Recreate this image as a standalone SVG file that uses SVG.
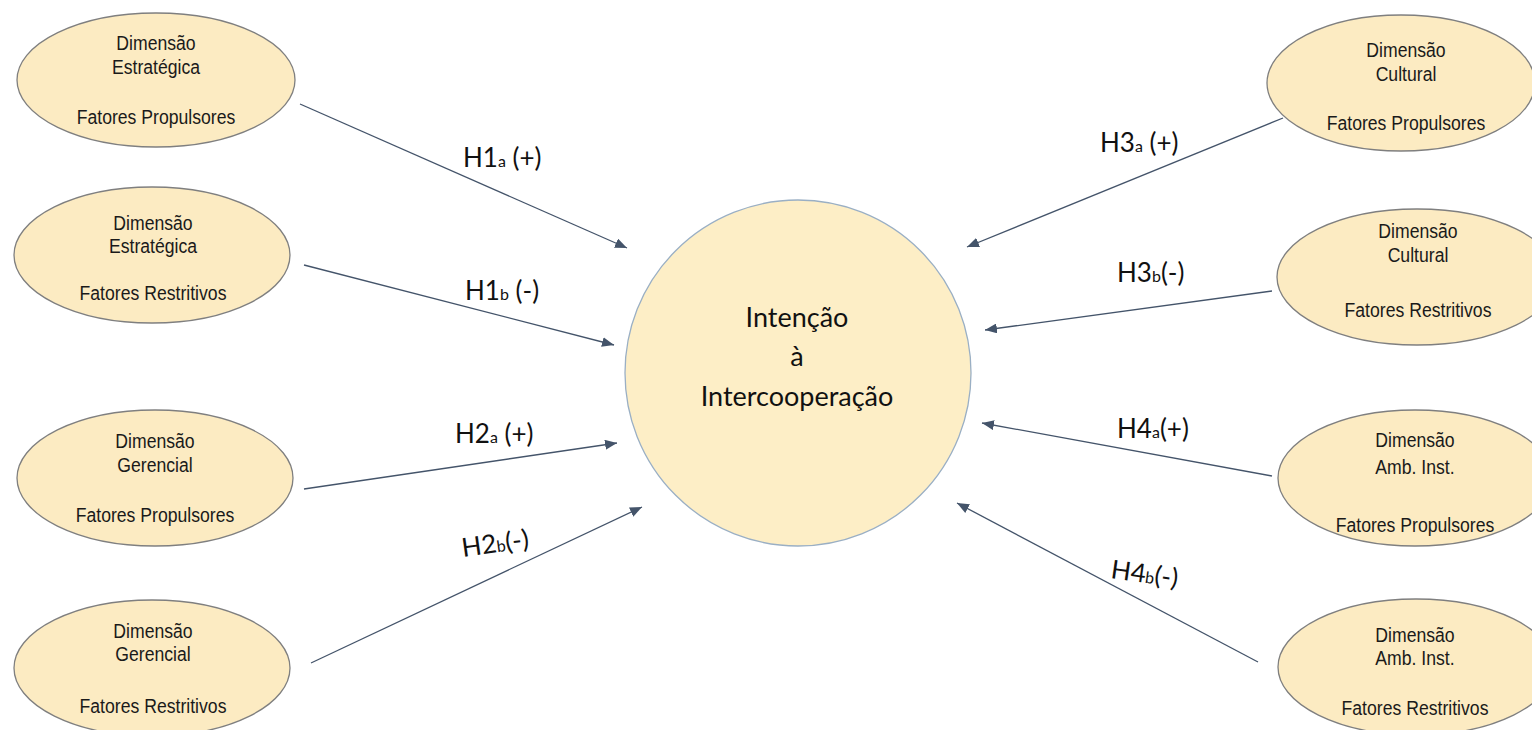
<svg xmlns="http://www.w3.org/2000/svg" width="1532" height="730" viewBox="0 0 1532 730">
<style>
.bg{fill:#ffffff}
.el{fill:#fcebc2;stroke:#7f7f7f;stroke-width:1.3}
.ctr{fill:#fdeec6;stroke:#9aafc4;stroke-width:1.3}
.et{font-family:"Liberation Sans",Arial,sans-serif;font-size:21px;fill:#1a1a1a;text-anchor:middle}
.ct{font-family:Lato,"Open Sans",sans-serif;font-size:27px;fill:#111111;text-anchor:middle}
.hl{font-family:Lato,"Open Sans",sans-serif;font-size:26px;fill:#111111}
.sub{font-size:16px}
.cn{stroke:#44546a;stroke-width:1.3;fill:none;marker-end:url(#ah)}
</style>
<defs>
<marker id="ah" markerUnits="userSpaceOnUse" markerWidth="12" markerHeight="10" viewBox="0 0 12 10" refX="12" refY="5" orient="auto">
<path d="M0,0 L12,5 L0,10 z" fill="#44546a"/>
</marker>
</defs>
<rect class="bg" x="0" y="0" width="1532" height="730"/>

<g id="connectors">
<line class="cn" x1="300" y1="104" x2="627" y2="248"/>
<line class="cn" x1="304" y1="265" x2="614" y2="345"/>
<line class="cn" x1="304" y1="489" x2="617" y2="443"/>
<line class="cn" x1="311" y1="663" x2="642" y2="507"/>
<line class="cn" x1="1283" y1="118" x2="967" y2="247"/>
<line class="cn" x1="1272" y1="291" x2="985" y2="330"/>
<line class="cn" x1="1272" y1="476" x2="982" y2="423"/>
<line class="cn" x1="1258" y1="662" x2="957" y2="503"/>
</g>

<g id="labels">
<text class="hl" x="463" y="167">H1<tspan class="sub">a</tspan> (+)</text>
<text class="hl" x="465" y="300">H1<tspan class="sub">b</tspan> (-)</text>
<text class="hl" x="455" y="443">H2<tspan class="sub">a</tspan> (+)</text>
<text class="hl" transform="translate(463 557) rotate(-8)" x="0" y="0">H2<tspan class="sub">b</tspan>(-)</text>
<text class="hl" x="1100" y="152">H3<tspan class="sub">a</tspan> (+)</text>
<text class="hl" x="1117" y="282">H3<tspan class="sub">b</tspan>(-)</text>
<text class="hl" x="1117" y="438">H4<tspan class="sub">a</tspan>(+)</text>
<text class="hl" transform="translate(1110 578) rotate(8)" x="0" y="0">H4<tspan class="sub">b</tspan>(-)</text>
</g>

<g id="center">
<circle class="ctr" cx="798" cy="373" r="173"/>
<text class="ct" x="797" y="327">Intenção</text>
<text class="ct" x="797" y="366">à</text>
<text class="ct" x="797" y="406">Intercooperação</text>
</g>

<g id="est-prop">
<ellipse class="el" cx="156" cy="80" rx="139" ry="67"/>
<g transform="translate(156 0) scale(0.84 1)">
<text class="et" x="0" y="50">Dimensão</text>
<text class="et" x="0" y="74">Estratégica</text>
<text class="et" x="0" y="124">Fatores Propulsores</text>
</g>
</g>

<g id="est-rest">
<ellipse class="el" cx="152" cy="255" rx="138" ry="68"/>
<g transform="translate(153 0) scale(0.84 1)">
<text class="et" x="0" y="230">Dimensão</text>
<text class="et" x="0" y="253">Estratégica</text>
<text class="et" x="0" y="300">Fatores Restritivos</text>
</g>
</g>

<g id="ger-prop">
<ellipse class="el" cx="155" cy="478" rx="138" ry="68"/>
<g transform="translate(155 0) scale(0.84 1)">
<text class="et" x="0" y="448">Dimensão</text>
<text class="et" x="0" y="472">Gerencial</text>
<text class="et" x="0" y="522">Fatores Propulsores</text>
</g>
</g>

<g id="ger-rest">
<ellipse class="el" cx="152" cy="668" rx="138" ry="68"/>
<g transform="translate(153 0) scale(0.84 1)">
<text class="et" x="0" y="638">Dimensão</text>
<text class="et" x="0" y="661">Gerencial</text>
<text class="et" x="0" y="713">Fatores Restritivos</text>
</g>
</g>

<g id="cul-prop">
<ellipse class="el" cx="1401" cy="83" rx="134" ry="68"/>
<g transform="translate(1406 0) scale(0.84 1)">
<text class="et" x="0" y="57">Dimensão</text>
<text class="et" x="0" y="81">Cultural</text>
<text class="et" x="0" y="130">Fatores Propulsores</text>
</g>
</g>

<g id="cul-rest">
<ellipse class="el" cx="1417" cy="277" rx="140" ry="68"/>
<g transform="translate(1418 0) scale(0.84 1)">
<text class="et" x="0" y="238">Dimensão</text>
<text class="et" x="0" y="262">Cultural</text>
<text class="et" x="0" y="317">Fatores Restritivos</text>
</g>
</g>

<g id="amb-prop">
<ellipse class="el" cx="1415" cy="478" rx="137" ry="68"/>
<g transform="translate(1415 0) scale(0.84 1)">
<text class="et" x="0" y="447">Dimensão</text>
<text class="et" x="0" y="474">Amb. Inst.</text>
<text class="et" x="0" y="532">Fatores Propulsores</text>
</g>
</g>

<g id="amb-rest">
<ellipse class="el" cx="1416" cy="667" rx="138" ry="68"/>
<g transform="translate(1415 0) scale(0.84 1)">
<text class="et" x="0" y="642">Dimensão</text>
<text class="et" x="0" y="665">Amb. Inst.</text>
<text class="et" x="0" y="715">Fatores Restritivos</text>
</g>
</g>
</svg>
